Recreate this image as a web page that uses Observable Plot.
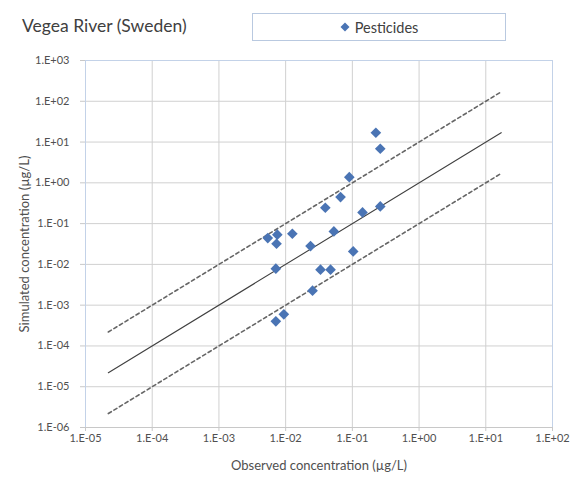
<!DOCTYPE html>
<html>
<head>
<meta charset="utf-8">
<script src="https://cdn.jsdelivr.net/npm/d3@7"></script>
<script src="https://cdn.jsdelivr.net/npm/@observablehq/plot@0.6"></script>
<style>
  body { margin: 0; background: #fff; font-family: Lato, "Open Sans", sans-serif; }
  #wrap { position: relative; width: 570px; height: 477px; }
  #title { position: absolute; left: 22px; top: 15px; font-size: 17.5px; color: #404040; }
  #legend { position: absolute; left: 252px; top: 13px; width: 254px; height: 28px; border: 1px solid #b9c9e0; box-sizing: border-box; font-size: 14.5px; color: #404040; display: flex; align-items: center; justify-content: center; }
  #legend svg { margin-right: 5px; }
  #chart { position: absolute; left: 0; top: 0; }
</style>
</head>
<body>
<div id="wrap">
  <div id="chart"></div>
  <div id="title">Vegea River (Sweden)</div>
  <div id="legend"><svg width="10" height="10"><path d="M5,0.5L9.5,5L5,9.5L0.5,5Z" fill="#4a74b4"/></svg>Pesticides</div>
</div>
<script>
// Observed vs simulated pesticide concentrations (µg/L)
const observed = [0.225, 0.262, 0.090, 0.0665, 0.0393, 0.142, 0.262, 0.0054, 0.0075, 0.0073,
                  0.0126, 0.0528, 0.0236, 0.103, 0.00713, 0.0333, 0.0471, 0.0253, 0.0094, 0.00713];
const simulated = [16.9, 6.85, 1.38, 0.447, 0.245, 0.188, 0.264, 0.0442, 0.0535, 0.0321,
                   0.0565, 0.0644, 0.0281, 0.0208, 0.00785, 0.00741, 0.00741, 0.00227, 0.000596, 0.000401];
const seriesName = "Pesticides";

// Reference lines: 1:1 and factor-of-10 bounds
const lineExtent = [2.2e-5, 17];
const factors = [1, 10, 0.1];

const xTicks = [1e-5, 1e-4, 1e-3, 1e-2, 1e-1, 1e0, 1e1, 1e2];
const yTicks = [1e-6, 1e-5, 1e-4, 1e-3, 1e-2, 1e-1, 1e0, 1e1, 1e2, 1e3];

const points = observed.map((x, i) => ({x, y: simulated[i], s: seriesName}));
const refLines = factors.flatMap(f => lineExtent.map(x => ({x, y: x * f, f})));

const fmt = d => {
  const e = Math.round(Math.log10(d));
  return "1.E" + (e < 0 ? "-" : "+") + String(Math.abs(e)).padStart(2, "0");
};

const chart = Plot.plot({
  width: 570,
  height: 477,
  marginLeft: 85,
  marginRight: 18,
  marginTop: 60,
  marginBottom: 50,
  style: { fontFamily: "Lato, 'Open Sans', sans-serif", fontSize: "11px", color: "#505050", background: "transparent" },
  x: { type: "log", domain: [1e-5, 1e2], ticks: xTicks, tickFormat: fmt },
  y: { type: "log", domain: [1e-6, 1e3], ticks: yTicks, tickFormat: fmt },
  marks: [
    Plot.gridX(xTicks, { stroke: "#d0d0d0", strokeOpacity: 1 }),
    Plot.gridY(yTicks, { stroke: "#d0d0d0", strokeOpacity: 1 }),
    Plot.frame({ stroke: "#c3d2e8" }),
    Plot.ruleY([1e-6], { stroke: "#c8c8c8" }),
    Plot.axisX(xTicks, { tickFormat: fmt, tickSize: 4, tickPadding: 3, stroke: "#c8c8c8", fontSize: 11,
      label: "Observed concentration (µg/L)", labelAnchor: "center", labelArrow: "none", labelOffset: 42 }),
    Plot.axisY(yTicks, { tickFormat: fmt, tickSize: 5, tickPadding: 11, stroke: "#c8c8c8", fontSize: 11,
      label: "Simulated concentration (µg/L)", labelAnchor: "center", labelArrow: "none", labelOffset: 66 }),
    Plot.line(refLines.filter(d => d.f === 1), { x: "x", y: "y", stroke: "#404040", strokeWidth: 1.1 }),
    Plot.line(refLines.filter(d => d.f === 10), { x: "x", y: "y", stroke: "#666", strokeWidth: 1.6, strokeDasharray: "3.5,3" }),
    Plot.line(refLines.filter(d => d.f === 0.1), { x: "x", y: "y", stroke: "#666", strokeWidth: 1.6, strokeDasharray: "3.5,3" }),
    Plot.dot(points, { x: "x", y: "y", symbol: "diamond2", r: 4.8, fill: "#4a74b4", stroke: "none" })
  ]
});
chart.querySelectorAll("[aria-label$='axis label']").forEach(el => {
  el.setAttribute("font-size", "13px");
  el.querySelectorAll("text").forEach(t => t.setAttribute("font-size", "13px"));
});
document.getElementById("chart").appendChild(chart);
</script>
</body>
</html>
